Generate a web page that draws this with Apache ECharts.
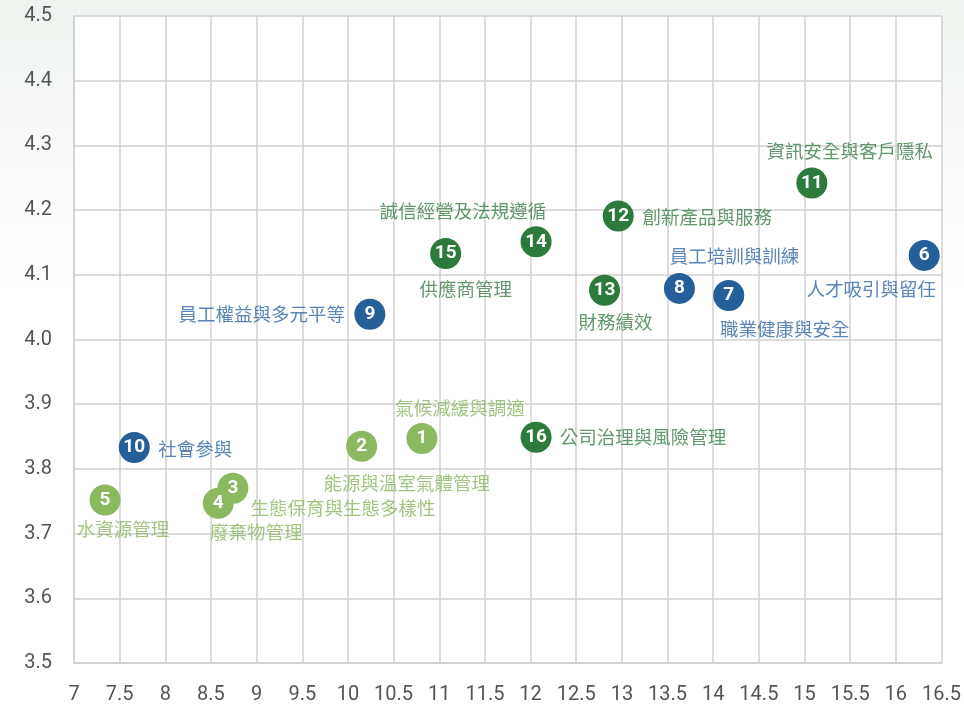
<!DOCTYPE html>
<html>
<head>
<meta charset="utf-8">
<script src="https://cdn.jsdelivr.net/npm/echarts@6/dist/echarts.min.js"></script>
<style>
  html, body { margin: 0; padding: 0; background: #fff; }
  #chart { width: 964px; height: 705px; }
</style>
</head>
<body>
<div id="chart"></div>
<script>
// topic numbers, names and scores
var topicIds = [1, 2, 3, 4, 5, 6, 7, 8, 9, 10, 11, 12, 13, 14, 15, 16]
var topicNames = [
    "氣候減緩與調適", "能源與溫室氣體管理", "生態保育與生態多樣性", "廢棄物管理", "水資源管理",
    "人才吸引與留任", "職業健康與安全", "員工培訓與訓練", "員工權益與多元平等", "社會參與",
    "資訊安全與客戶隱私", "創新產品與服務", "財務績效", "誠信經營及法規遵循", "供應商管理", "公司治理與風險管理"
]
var impactX = [10.81, 10.15, 8.74, 8.58, 7.34, 16.31, 14.17, 13.63, 10.24, 7.66, 15.08, 12.96, 12.81, 12.06, 11.07, 12.06]
var concernY = [3.847, 3.835, 3.770, 3.747, 3.752, 4.130, 4.068, 4.079, 4.039, 3.833, 4.242, 4.191, 4.076, 4.151, 4.133, 3.849]
var topicGroup = [0, 0, 0, 0, 0, 1, 1, 1, 1, 1, 2, 2, 2, 2, 2, 2]

// styling
var markColors = ["#8cb860", "#255f99", "#2c7a3c"]
var textColors = ["#8ab662", "#2f68a4", "#3a7e47"]
// where each name sits relative to its circle (px)
var nameOffsets = [
    [38, -31], [45, 37], [110, 20], [38, 29], [18, 29],
    [-53, 34], [56, 33], [55, -32], [-108, 0], [61, 1],
    [38, -32], [89, 1], [11, 32], [-73, -31], [20, 36], [107, 0]
]

var pts = topicIds.map((id, i) => ({
    value: [impactX[i], concernY[i]],
    id: id,
    name: topicNames[i],
    itemStyle: { color: markColors[topicGroup[i]] }
}))

var namePts = topicIds.map((id, i) => ({
    value: [impactX[i], concernY[i]],
    name: topicNames[i],
    label: { color: textColors[topicGroup[i]] }
}))

echarts.init(document.getElementById("chart")).setOption({
    animation: false,
    backgroundColor: new echarts.graphic.LinearGradient(0, 0, 0, 1, [
        { offset: 0, color: "#edf3ee" },
        { offset: 0.18, color: "#f8faf8" },
        { offset: 0.4, color: "#ffffff" },
        { offset: 1, color: "#ffffff" }
    ]),
    grid: {
        left: 74, right: 22, top: 16, bottom: 41,
        show: true, backgroundColor: "#ffffff", borderWidth: 0
    },
    xAxis: {
        type: "value", min: 7, max: 16.5, interval: 0.5,
        axisLine: { show: true, lineStyle: { color: "#d0d0d0", width: 1.5 } },
        axisTick: { show: false },
        splitLine: { show: true, lineStyle: { color: "#d0d0d0", width: 1.5 } },
        axisLabel: {
            color: "#555", fontSize: 20, fontFamily: "Roboto", margin: 22,
            showMaxLabel: true, showMinLabel: true
        }
    },
    yAxis: {
        type: "value", min: 3.5, max: 4.5, interval: 0.1,
        axisLine: { show: true, lineStyle: { color: "#d0d0d0", width: 1.5 } },
        axisTick: { show: false },
        splitLine: { show: true, lineStyle: { color: "#d0d0d0", width: 1.5 } },
        axisLabel: {
            color: "#555", fontSize: 20, fontFamily: "Roboto", margin: 22,
            formatter: v => v.toFixed(1)
        }
    },
    series: [{
        type: "scatter",
        symbolSize: 31,
        data: pts,
        z: 3,
        itemStyle: { opacity: 1 },
        label: {
            show: true, position: "inside",
            formatter: p => String(p.data.id),
            color: "#fff", fontSize: 19, fontWeight: "bold", fontFamily: "Roboto"
        }
    }, {
        type: "scatter",
        symbolSize: 1,
        itemStyle: { color: "rgba(0,0,0,0)" },
        data: namePts,
        z: 4,
        silent: true,
        label: {
            show: true, position: "inside",
            formatter: p => p.name,
            fontSize: 18.5, fontFamily: "Noto Sans CJK TC"
        },
        labelLayout: p => ({
            dx: nameOffsets[p.dataIndex][0],
            dy: nameOffsets[p.dataIndex][1],
            hideOverlap: false
        })
    }]
})
</script>
</body>
</html>
